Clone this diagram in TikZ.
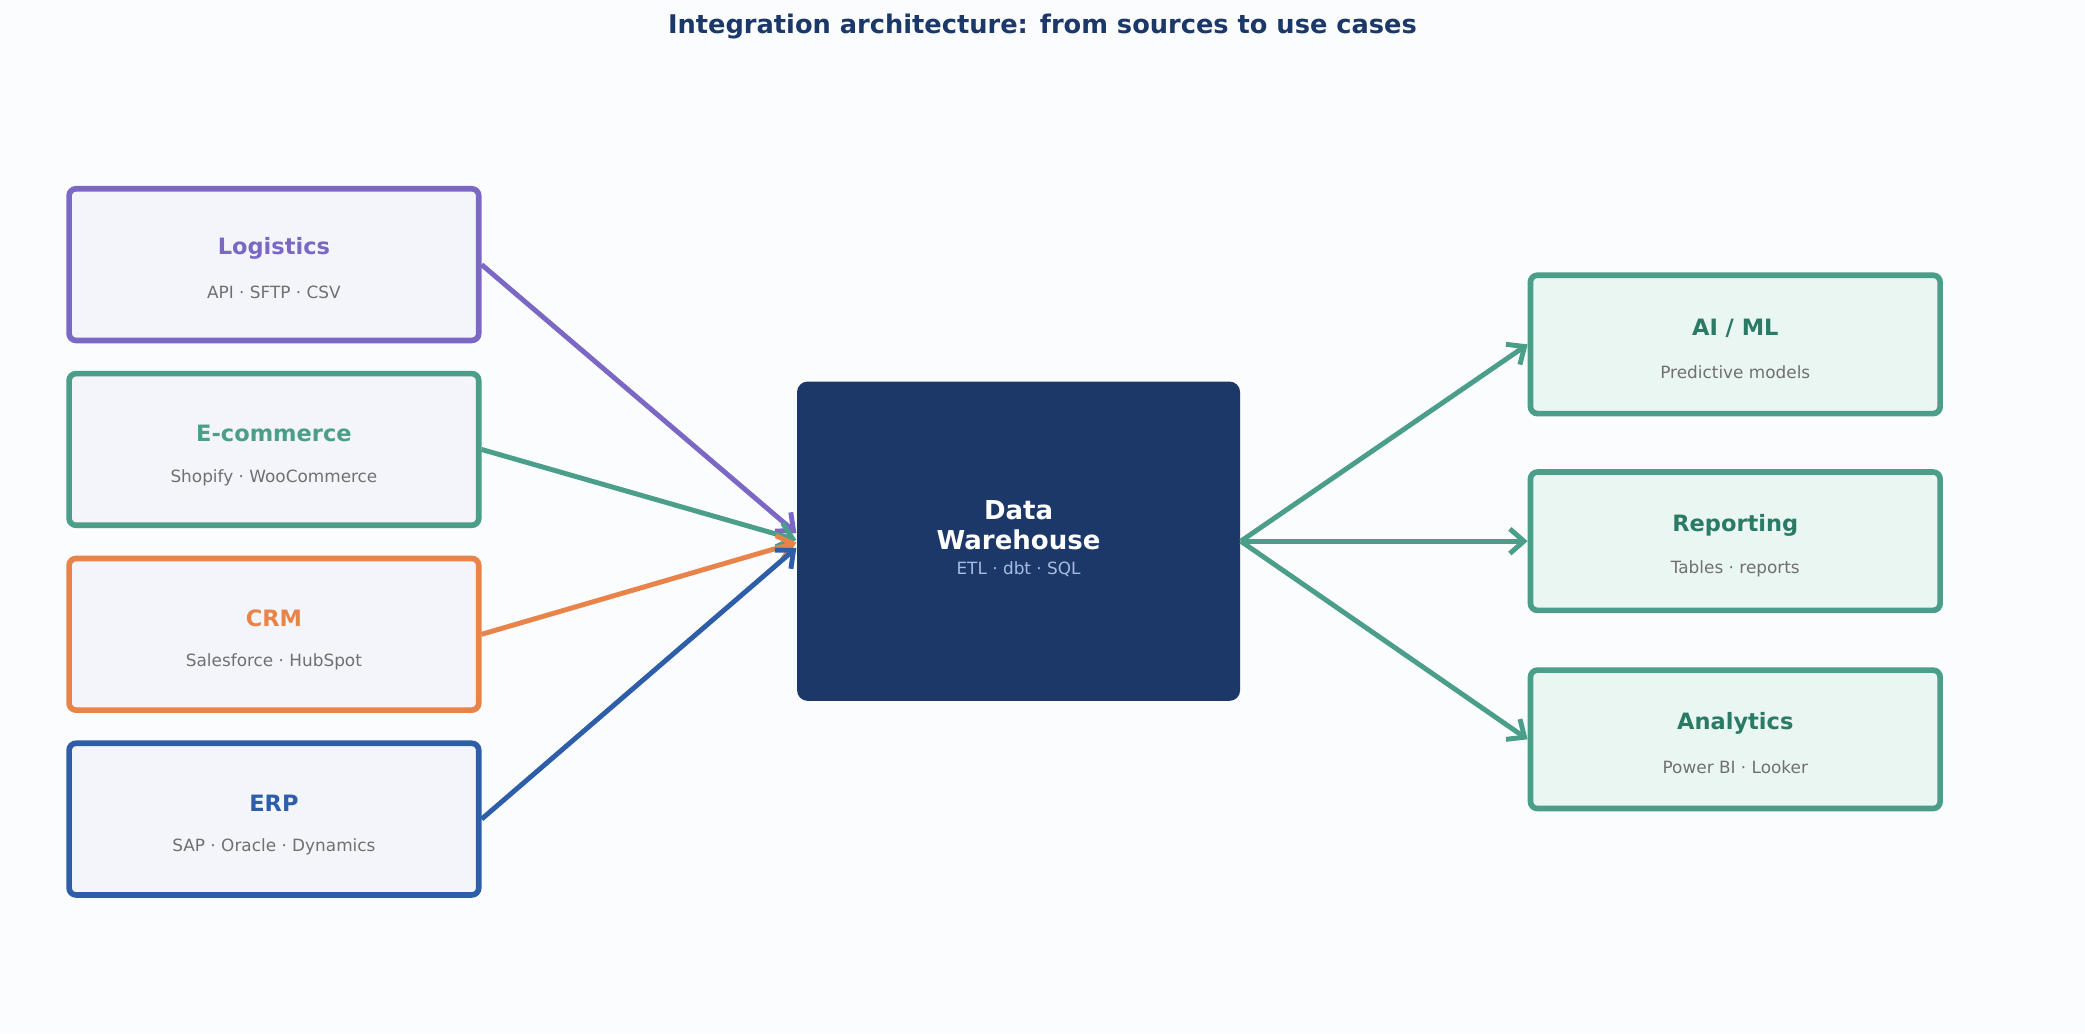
\documentclass[tikz,border=0pt]{standalone}
\usepackage{fontspec}
\setmainfont{DejaVu Sans}
\usetikzlibrary{arrows.meta,calc}
\definecolor{bgc}{HTML}{FBFCFE}
\definecolor{purp}{HTML}{7B68C4}
\definecolor{teal}{HTML}{4A9E8A}
\definecolor{oran}{HTML}{E8834A}
\definecolor{blu}{HTML}{2E5EA8}
\definecolor{navy}{HTML}{1B3869}
\definecolor{srcfill}{HTML}{F3F5FB}
\definecolor{usefill}{HTML}{EAF6F2}
\definecolor{usetext}{HTML}{2A7A65}
\definecolor{subtext}{HTML}{707070}
\definecolor{whsub}{HTML}{A9BCE0}
\tikzset{
    src/.style={draw=#1, line width=1.6pt, fill=srcfill, rounded corners=2pt,
        minimum width=4.095cm, minimum height=1.516cm},
    use/.style={draw=teal, line width=1.6pt, fill=usefill, rounded corners=2pt,
        minimum width=4.095cm, minimum height=1.383cm},
    ttl/.style={font=\bfseries\fontsize{6.4}{7.5}\selectfont, text=#1},
    sub/.style={font=\fontsize{4.8}{6}\selectfont, text=subtext},
    link/.style={draw=#1, line width=1.4pt, -{Straight Barb[length=4pt,width=7pt]}}
}
\begin{document}
\begin{tikzpicture}[x=0.013297cm, y=-0.013297cm]
    \fill[bgc] (0,0) rectangle (1568,777);
    \useasboundingbox (0,0) rectangle (1568,777);
    \node[font=\bfseries\fontsize{7.3}{9}\selectfont, text=navy] (title) at (784,20)
        {Integration architecture: from sources to use cases};
    % sources
    \foreach \n/\t/\s/\c/\y in {log/Logistics/API · SFTP · CSV/purp/199,
        eco/E-commerce/Shopify · WooCommerce/teal/338,
        crm/CRM/Salesforce · HubSpot/oran/477,
        erp/ERP/SAP · Oracle · Dynamics/blu/616}
    {
        \node[src=\c] (\n) at (206,\y) {};
        \node[ttl=\c] (\n-t) at (206,\y-12) {\t};
        \node[sub] (\n-s) at (206,\y+21) {\s};
    }
    % warehouse
    \node[fill=navy, rounded corners=3pt, minimum width=4.428cm, minimum height=3.191cm] (wh) at (766,407) {};
    \node[align=center, text=white, font=\bfseries\fontsize{7.4}{8.6}\selectfont] (wh-t) at (766,395) {Data\\Warehouse};
    \node[sub, text=whsub] (wh-s) at (766,428) {ETL · dbt · SQL};
    % use cases
    \foreach \n/\t/\s/\y in {ai/{AI / ML}/Predictive models/259,
        rep/Reporting/Tables · reports/407,
        ana/Analytics/Power BI · Looker/556}
    {
        \node[use] (\n) at (1305,\y) {};
        \node[ttl=usetext] (\n-t) at (1305,\y-12) {\t};
        \node[sub] (\n-s) at (1305,\y+21) {\s};
    }
    % connectors
    \draw[link=purp] (log.east) -- ($(wh.west)+(0,-6)$);
    \draw[link=teal] (eco.east) -- ($(wh.west)+(0,-1)$);
    \draw[link=oran] (crm.east) -- ($(wh.west)+(0,1)$);
    \draw[link=blu] (erp.east) -- ($(wh.west)+(0,5)$);
    \foreach \n in {ai,rep,ana}
        \draw[link=teal] (wh.east) -- (\n.west);
\end{tikzpicture}
\end{document}
